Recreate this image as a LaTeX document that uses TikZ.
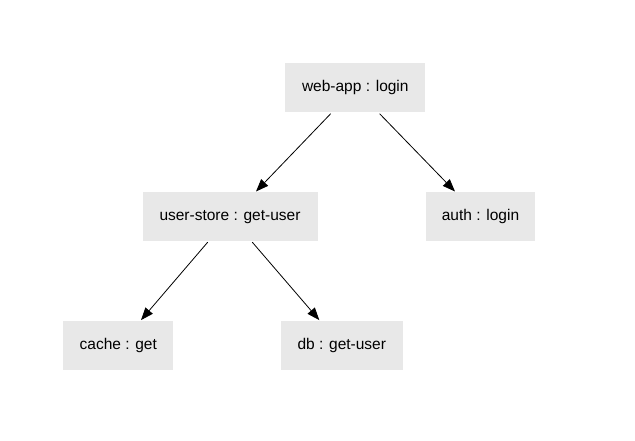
\documentclass[tikz,border=0pt]{standalone}
\usepackage{fontspec}
\setmainfont{Liberation Sans}
\usetikzlibrary{arrows.meta,calc}
\definecolor{boxgray}{RGB}{232,232,232}
\tikzset{
  box/.style={fill=boxgray, draw=none, inner sep=0pt, minimum height=49pt, font=\fontsize{15.5}{18}\selectfont},
  edge/.style={draw=black, line width=0.8pt, -{Triangle[length=12.5pt,width=9.5pt]}},
}
\begin{document}
\begin{tikzpicture}[x=1pt,y=1pt]
\useasboundingbox (0,0) rectangle (635,440);
\node[box, minimum width=140pt] (wa) at (355.3,352.3) {web-app : login};
\node[box, minimum width=175pt] (us) at (230,223.3) {user-store : get-user};
\node[box, minimum width=109pt] (au) at (480.5,223.3) {auth : login};
\node[box, minimum width=110pt] (ca) at (118.3,94.2) {cache : get};
\node[box, minimum width=122pt] (db) at (341.8,94.2) {db : get-user};
\coordinate (wa1) at ($(wa.south)+(-24.6,-1.3)$);
\coordinate (wa2) at ($(wa.south)+(24.3,-1.3)$);
\coordinate (us1) at ($(us.south)+(-22.3,-0.8)$);
\coordinate (us2) at ($(us.south)+(22.3,-0.8)$);
\coordinate (usT) at ($(us.north)+(26,0.5)$);
\coordinate (auT) at ($(au.north)+(-25.5,0.5)$);
\coordinate (caT) at ($(ca.north)+(22.7,1)$);
\coordinate (dbT) at ($(db.north)+(-22.5,1)$);
\draw[edge] (wa1) -- (usT);
\draw[edge] (wa2) -- (auT);
\draw[edge] (us1) -- (caT);
\draw[edge] (us2) -- (dbT);
\end{tikzpicture}
\end{document}
